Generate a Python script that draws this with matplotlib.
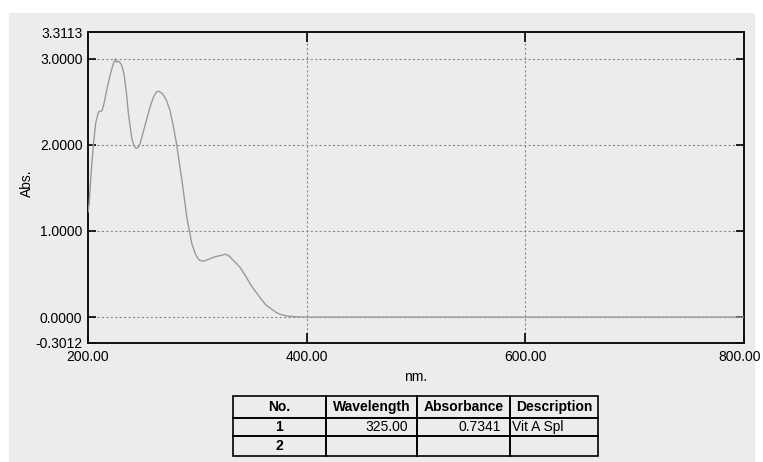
"""UV absorbance spectrum of a vitamin A sample, with the peak table below it."""

from matplotlib import pyplot as plt
from matplotlib.patches import Rectangle
from matplotlib.table import Table
from matplotlib.transforms import ScaledTranslation

wavelength_nm = [200, 201, 203, 205, 207, 209.5, 213, 215, 217, 220, 222.6,
                 224, 225, 226, 227.8, 229, 231, 233, 235, 237, 240, 242,
                 244, 246, 248, 252, 257, 260, 263, 265, 267.6, 270, 272,
                 275, 278, 281, 286, 290.5, 295, 298, 300, 302, 305, 308,
                 312, 316, 319.5, 323, 325.7, 329, 332, 336, 339.5, 344,
                 348.6, 353, 357.8, 362, 367, 372, 376, 382, 388, 395, 400,
                 500, 600, 700, 800]
absorbance = [1.22, 1.31, 1.70, 2.01, 2.25, 2.38, 2.40, 2.50, 2.63, 2.80, 2.92,
              2.97, 3.00, 2.96, 2.97, 2.96, 2.92, 2.82, 2.62, 2.36, 2.08, 1.99,
              1.96, 1.97, 2.03, 2.22, 2.45, 2.56, 2.62, 2.62, 2.60, 2.56, 2.51,
              2.40, 2.22, 2.01, 1.58, 1.15, 0.85, 0.74, 0.69, 0.66, 0.65, 0.66,
              0.68, 0.70, 0.71, 0.72, 0.73, 0.71, 0.67, 0.62, 0.57, 0.48,
              0.38, 0.30, 0.22, 0.15, 0.10, 0.055, 0.03, 0.012, 0.005, 0.001,
              0.0, 0.0, 0.0, 0.0, 0.0]

x_ticks = [200, 400, 600, 800]
y_ticks = [-0.3012, 0.0, 1.0, 2.0, 3.0, 3.3113]
grid_x = [400, 600]
grid_y = [0.0, 1.0, 2.0, 3.0]

table_columns = ["No.", "Wavelength", "Absorbance", "Description"]
table_rows = [["1", "325.00", "0.7341", "Vit A Spl"],
              ["2", "", "", ""]]


def main():
    plt.rcParams["font.family"] = ["Liberation Sans", "DejaVu Sans"]
    fig = plt.figure(figsize=(7.63, 4.62), dpi=100, facecolor="white")
    W, H = 763, 462

    # scanned paper look: grey sheet with a white strip at the left/top/right
    fig.patches.append(Rectangle((9 / W, 0), (755 - 9) / W, (H - 13) / H,
                                 transform=fig.transFigure,
                                 facecolor="#ececec", edgecolor="none",
                                 zorder=-10))

    ax = fig.add_axes([88 / W, 1 - 343 / H, (744 - 88) / W, (343 - 32) / H])
    ax.set_facecolor("none")
    ax.plot(wavelength_nm, absorbance, color="#9a9a9a", lw=1.0, zorder=3)
    ax.set_xlim(x_ticks[0], x_ticks[-1])
    ax.set_ylim(y_ticks[0], y_ticks[-1])

    for gx in grid_x:
        ax.axvline(gx, color="#8a8a8a", lw=0.8, ls=(0, (2, 2)), zorder=1)
    for gy in grid_y:
        ax.axhline(gy, color="#8a8a8a", lw=0.8, ls=(0, (2, 2)), zorder=1)

    ax.set_xticks(x_ticks)
    ax.set_xticklabels([f"{v:.2f}" for v in x_ticks])
    ax.set_yticks(y_ticks)
    ax.set_yticklabels([f"{v:.4f}" for v in y_ticks])
    ax.tick_params(axis="x", direction="in", length=7, width=1.2, pad=5,
                   labelsize=10, top=True, colors="black")
    ax.tick_params(axis="y", direction="in", length=6, width=1.2, pad=4,
                   labelsize=10, right=True, colors="black")
    for spine in ax.spines.values():
        spine.set_linewidth(1.4)
        spine.set_color("#111111")

    # the last x label sits flush with the page edge in the printout
    last = ax.get_xticklabels()[-1]
    last.set_transform(last.get_transform()
                       + ScaledTranslation(-4 / 100, 0, fig.dpi_scale_trans))

    fig.text(416 / W, 1 - 377 / H, "nm.", ha="center", va="center", fontsize=10)
    fig.text(27 / W, 1 - 183 / H, "Abs.", ha="center", va="center",
             rotation=90, fontsize=10)

    # peak table
    ax_t = fig.add_axes([233 / W, 1 - 456 / H, 365 / W, 60 / H])
    ax_t.axis("off")
    tbl = Table(ax_t, bbox=[0, 0, 1, 1])
    col_w = [93, 91, 93, 88]
    row_h = [22, 18, 20]
    aligns = ["center", "right", "right", "left"]
    for c, name in enumerate(table_columns):
        cell = tbl.add_cell(0, c, width=col_w[c], height=row_h[0], text=name,
                            loc="center", facecolor="none", edgecolor="black")
        cell.get_text().set_fontweight("bold")
    for r, row in enumerate(table_rows, start=1):
        for c, val in enumerate(row):
            cell = tbl.add_cell(r, c, width=col_w[c], height=row_h[r], text=val,
                                loc=aligns[c], facecolor="none",
                                edgecolor="black")
            if c == 0:
                cell.get_text().set_fontweight("bold")
            if c == 3:
                cell.PAD = 0.02
    tbl.auto_set_font_size(False)
    tbl.set_fontsize(10)
    for cell in tbl.get_celld().values():
        cell.set_linewidth(1.2)
    ax_t.add_table(tbl)

    fig.savefig("out.png", dpi=100, facecolor="white")
    plt.close(fig)


if __name__ == "__main__":
    main()
